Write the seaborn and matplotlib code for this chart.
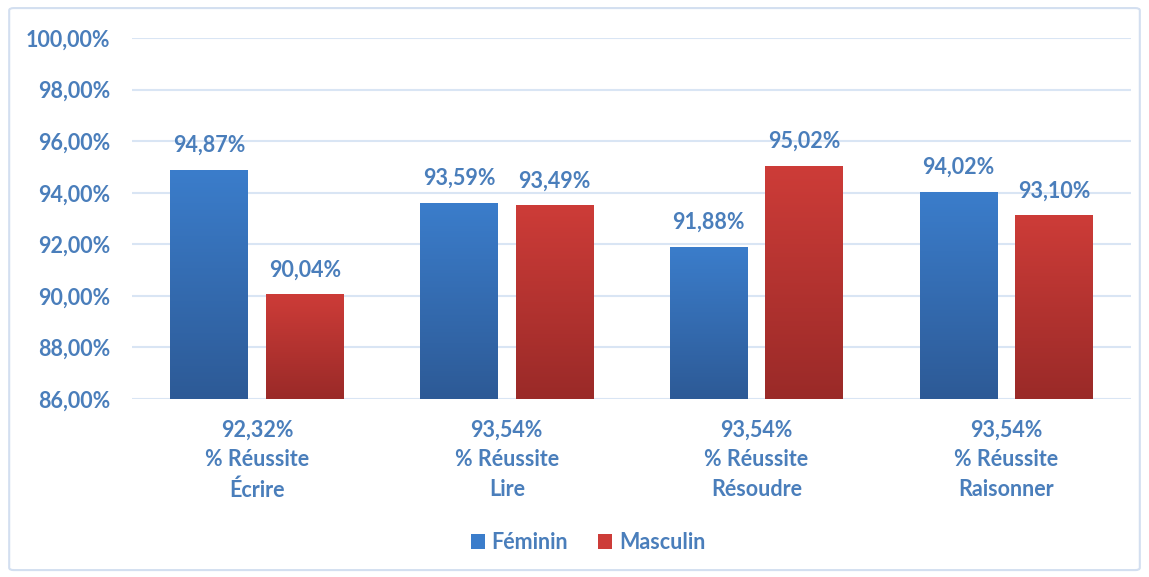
import numpy as np
import pandas as pd
import matplotlib
matplotlib.use('Agg')
import matplotlib.pyplot as plt
import seaborn as sns
from matplotlib.colors import LinearSegmentedColormap
from matplotlib.patches import Patch, FancyBboxPatch

# Data.
competences = ['Écrire', 'Lire', 'Résoudre', 'Raisonner']
taux_global = [92.32, 93.54, 93.54, 93.54]
feminin = [94.87, 93.59, 91.88, 94.02]
masculin = [90.04, 93.49, 95.02, 93.10]
sexes = ['Féminin', 'Masculin']

def fr_pct(v):
    return f'{v:.2f}%'.replace('.', ',')

labels = [f'{fr_pct(t)}\n% Réussite\n{c}' for t, c in zip(taux_global, competences)]
df = pd.DataFrame({
    'cat': labels * 2,
    'sexe': [sexes[0]] * 4 + [sexes[1]] * 4,
    'val': feminin + masculin,
})

sns.set_theme(style='white')
plt.rcParams['font.family'] = ['Lato', 'DejaVu Sans']
plt.rcParams['font.weight'] = 'bold'
txt_col = '#4A7EBB'
grid_col = '#D9E5F4'
grads = {'Féminin': ('#3B7DCB', '#2D5A96'), 'Masculin': ('#CD3C38', '#9A2A28')}
fs = 15.5

fig = plt.figure(figsize=(11.49, 5.77), dpi=100)
ax = fig.add_axes([0.115, 0.3085, 0.8695, 0.6255])

sns.barplot(data=df, x='cat', y='val', hue='sexe', palette=[grads[s][0] for s in sexes],
            width=0.764, gap=0.183, ax=ax, legend=False, saturation=1)

ymin, ymax = 86, 100
ax.set_ylim(ymin, ymax)
ax.set_xlim(-0.5, 3.5)
ax.set_yticks(np.arange(ymin, ymax + 0.1, 2))
ax.set_yticklabels([fr_pct(v) for v in np.arange(ymin, ymax + 0.1, 2)], color=txt_col,
                   fontsize=fs, fontweight='bold')
ax.tick_params(axis='y', length=0, pad=16)
ax.tick_params(axis='x', length=0, pad=15)
for t in ax.get_xticklabels():
    t.set_color(txt_col)
    t.set_fontsize(fs)
    t.set_fontweight('bold')
    t.set_linespacing(1.5)
ax.set_xlabel('')
ax.set_ylabel('')
ax.grid(axis='y', color=grid_col, linewidth=1.5)
ax.set_axisbelow(True)
sns.despine(ax=ax, left=True, top=True, right=True, bottom=True)

# gradient fill + value labels
n = len(competences)
for i, p in enumerate(list(ax.patches)):
    sexe = sexes[i // n]
    top, bot = grads[sexe]
    cmap = LinearSegmentedColormap.from_list('g', [bot, top])
    x0, w = p.get_x(), p.get_width()
    val = p.get_y() + p.get_height()
    grad = np.linspace(0, 1, 256).reshape(-1, 1)
    ax.imshow(grad, extent=[x0, x0 + w, ymin, val], origin='lower', cmap=cmap,
              aspect='auto', zorder=3)
    p.set_visible(False)
    ax.annotate(fr_pct(val), (x0 + w / 2, val), xytext=(0, 18), textcoords='offset points',
                ha='center', va='center', color=txt_col, fontsize=fs, fontweight='bold')

ax.set_xlim(-0.5, 3.5)
ax.set_ylim(ymin, ymax)

handles = [Patch(facecolor=grads[s][0], edgecolor='none', label=s) for s in sexes]
leg = fig.legend(handles=handles, loc='center', bbox_to_anchor=(0.512, 0.06), ncol=2,
                 frameon=False, handlelength=0.65, handleheight=0.65, handletextpad=0.3,
                 columnspacing=1.4, prop={'size': fs, 'weight': 'bold'})
for t in leg.get_texts():
    t.set_color(txt_col)

border = FancyBboxPatch((0.008, 0.012), 0.984, 0.974, boxstyle='round,pad=0,rounding_size=0.004',
                        transform=fig.transFigure, fill=False, edgecolor='#D3DFF0', linewidth=1.5)
fig.patches.append(border)

fig.savefig('out.png', dpi=100)
